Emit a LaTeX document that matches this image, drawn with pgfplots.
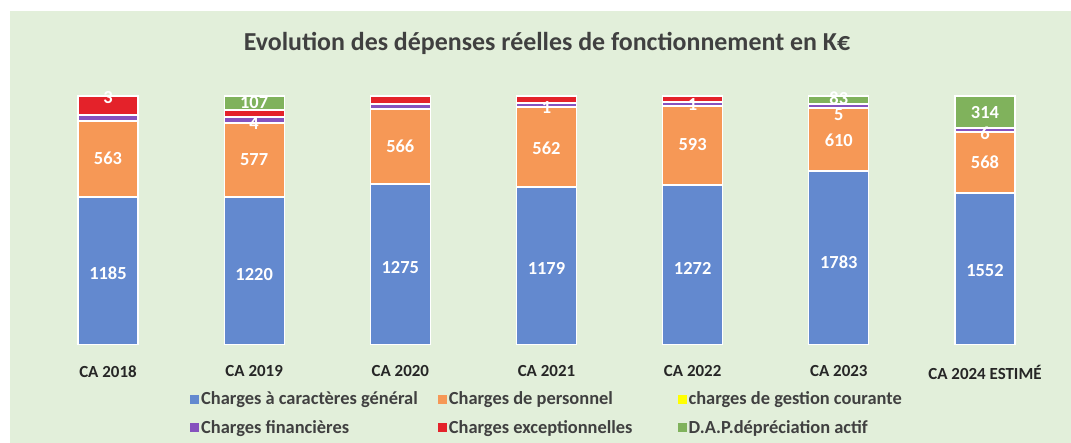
\documentclass[border=0pt]{standalone}
\usepackage{fontspec}
\setmainfont{Carlito}
\usepackage{pgfplots}
\pgfplotsset{compat=1.18}

\definecolor{bg}{RGB}{226,239,218}
\definecolor{cblue}{RGB}{99,137,207}
\definecolor{corange}{RGB}{246,152,86}
\definecolor{cyellow}{RGB}{255,255,0}
\definecolor{cpurple}{RGB}{134,82,190}
\definecolor{cred}{RGB}{228,34,42}
\definecolor{cgreen}{RGB}{128,178,92}
\definecolor{ctxt}{RGB}{64,64,64}

% segment heights as they are drawn (each bar is scaled to the same total)
\pgfplotsset{
  base/.style={
    at={(34.9bp,98bp)}, anchor=south west,
    scale only axis, width=1023.2bp, height=249bp,
    xmin=-0.5, xmax=6.5, ymin=0, ymax=249,
  },
}

\begin{document}
\begin{tikzpicture}
\useasboundingbox (0,0) rectangle (1071bp,443bp);
\fill[bg] (10bp,0) rectangle (1071bp,432bp);
\node[font=\bfseries\fontsize{26}{28}\selectfont, text=ctxt] at (547bp,400bp)
  {Evolution des dépenses réelles de fonctionnement en K€};

\begin{axis}[base,
  ybar stacked, bar width=60bp,
  axis line style={draw=none}, ytick=\empty,
  xtick={0,...,6}, major tick length=0,
  xticklabels={CA 2018, CA 2019, CA 2020, CA 2021, CA 2022, CA 2023, CA 2024 ESTIMÉ},
  xticklabel style={font=\bfseries\fontsize{17}{19}\selectfont, text=black!85, yshift=-17bp},
  every axis plot/.append style={draw=white, line width=1.2bp},
  legend columns=3,
  legend cell align=left,
  legend style={at={(0.1516,-0.18)}, anchor=north west, draw=none, fill=none,
    font=\bfseries\fontsize{18.5}{20}\selectfont, text=ctxt, inner sep=0pt,
    /tikz/column 2/.style={column sep=18bp},
    /tikz/column 4/.style={column sep=43bp},
    row sep=10bp},
  legend image code/.code={\fill[#1, draw=none] (0bp,-4.5bp) rectangle (9bp,4.5bp);},
]
\addplot[fill=cblue] coordinates {(0,148) (1,148) (2,161) (3,158) (4,160) (5,174) (6,152)};
\addplot[fill=corange] coordinates {(0,76) (1,74) (2,75) (3,80) (4,79) (5,63) (6,61)};
\addplot[fill=cyellow] coordinates {(0,0) (1,0) (2,0) (3,0) (4,0) (5,0) (6,0)};
\addplot[fill=cpurple] coordinates {(0,6) (1,6) (2,5) (3,4) (4,4) (5,4) (6,4)};
\addplot[fill=cred] coordinates {(0,19) (1,7) (2,8) (3,7) (4,6) (5,0) (6,0)};
\addplot[fill=cgreen] coordinates {(0,0) (1,14) (2,0) (3,0) (4,0) (5,8) (6,32)};
\legend{Charges à caractères général, Charges de personnel, charges de gestion courante,
  Charges financières, Charges exceptionnelles, D.A.P.dépréciation actif}
\end{axis}

% data labels
\begin{axis}[base, hide axis]
\addplot[draw=none, mark=none, nodes near coords, point meta=explicit symbolic,
  nodes near coords style={anchor=center, text=white, inner sep=0pt,
    font=\bfseries\fontsize{18.5}{20}\selectfont}]
  coordinates {
  (0,72)[1185] (0,187)[563] (0,247)[3]
  (1,70)[1220] (1,185)[577] (1,221)[4] (1,242)[107]
  (2,77)[1275] (2,199)[566]
  (3,77)[1179] (3,197)[562] (3,237)[1]
  (4,77)[1272] (4,200)[593] (4,240)[1]
  (5,83)[1783] (5,205)[610] (5,230)[5] (5,247)[83]
  (6,74)[1552] (6,183)[568] (6,212)[6] (6,232)[314]
  };
\end{axis}
\end{tikzpicture}
\end{document}
